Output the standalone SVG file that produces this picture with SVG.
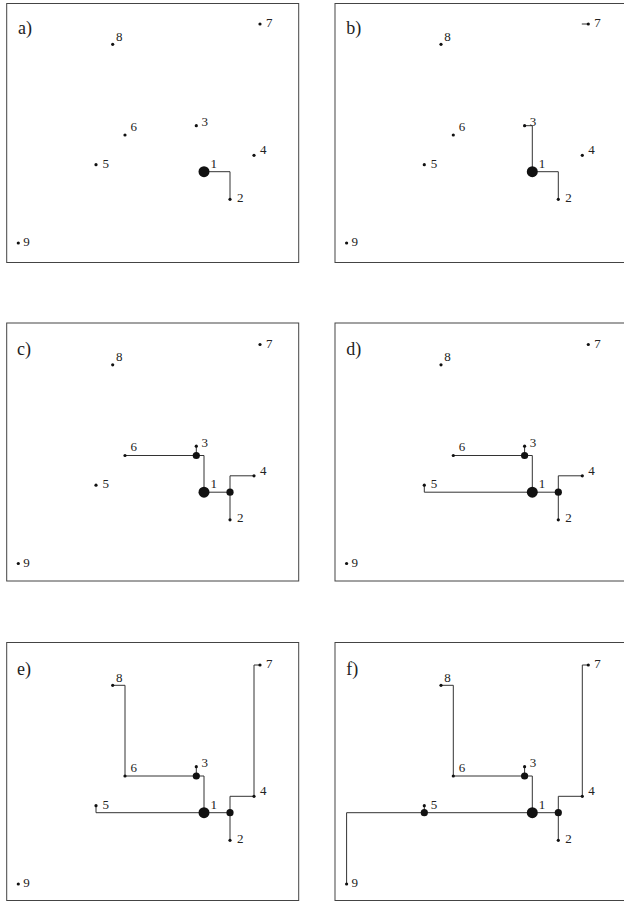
<svg xmlns="http://www.w3.org/2000/svg" width="624" height="902" viewBox="0 0 624 902">
<style>
.frame{fill:none;stroke:#444;stroke-width:1}
.edge{fill:none;stroke:#333;stroke-width:1}
.dot{fill:#111}
.lbl{font-family:"Liberation Serif","Times New Roman",serif;font-size:13px;fill:#222}
.ttl{font-family:"Liberation Serif","Times New Roman",serif;font-size:18px;fill:#222}
</style>
<rect width="624" height="902" fill="#fff"/>

<!-- Panel a -->
<g id="panel-a">
<rect class="frame" x="6.7" y="3.5" width="292" height="259"/>
<text class="ttl" x="18" y="34">a)</text>
<g id="a-edges"><path class="edge" d="M204,171.7 H230 V199.3"/></g>
<g id="a-n1"><circle class="dot" cx="204" cy="171.7" r="5.5"/><text class="lbl" x="210.5" y="167.7">1</text></g>
<g id="a-n2"><circle class="dot" cx="230" cy="199.3" r="1.6"/><text class="lbl" x="237" y="201.5">2</text></g>
<g id="a-n3"><circle class="dot" cx="196.3" cy="125.7" r="1.6"/><text class="lbl" x="201.5" y="126">3</text></g>
<g id="a-n4"><circle class="dot" cx="254" cy="155.3" r="1.6"/><text class="lbl" x="260" y="154">4</text></g>
<g id="a-n5"><circle class="dot" cx="96" cy="164.7" r="1.6"/><text class="lbl" x="102.5" y="167.7">5</text></g>
<g id="a-n6"><circle class="dot" cx="125" cy="135" r="1.6"/><text class="lbl" x="130.5" y="130.7">6</text></g>
<g id="a-n7"><circle class="dot" cx="260" cy="24" r="1.6"/><text class="lbl" x="266" y="27">7</text></g>
<g id="a-n8"><circle class="dot" cx="112.7" cy="44.3" r="1.6"/><text class="lbl" x="116" y="40.7">8</text></g>
<g id="a-n9"><circle class="dot" cx="18.3" cy="243" r="1.6"/><text class="lbl" x="23.3" y="246.3">9</text></g>
</g>

<!-- Panel b -->
<g id="panel-b" transform="translate(328.3,0)">
<rect class="frame" x="6.7" y="3.5" width="292" height="259"/>
<text class="ttl" x="18" y="34">b)</text>
<g id="b-edges">
<path class="edge" d="M204,171.7 H230 V199.3"/>
<path class="edge" d="M196.3,125.7 H204 V171.7"/>
<path class="edge" d="M253.5,24 H260"/>
</g>
<g id="b-n1"><circle class="dot" cx="204" cy="171.7" r="5.5"/><text class="lbl" x="210.5" y="167.7">1</text></g>
<g id="b-n2"><circle class="dot" cx="230" cy="199.3" r="1.6"/><text class="lbl" x="237" y="201.5">2</text></g>
<g id="b-n3"><circle class="dot" cx="196.3" cy="125.7" r="1.6"/><text class="lbl" x="201.5" y="126">3</text></g>
<g id="b-n4"><circle class="dot" cx="254" cy="155.3" r="1.6"/><text class="lbl" x="260" y="154">4</text></g>
<g id="b-n5"><circle class="dot" cx="96" cy="164.7" r="1.6"/><text class="lbl" x="102.5" y="167.7">5</text></g>
<g id="b-n6"><circle class="dot" cx="125" cy="135" r="1.6"/><text class="lbl" x="130.5" y="130.7">6</text></g>
<g id="b-n7"><circle class="dot" cx="260" cy="24" r="1.6"/><text class="lbl" x="266" y="27">7</text></g>
<g id="b-n8"><circle class="dot" cx="112.7" cy="44.3" r="1.6"/><text class="lbl" x="116" y="40.7">8</text></g>
<g id="b-n9"><circle class="dot" cx="18.3" cy="243" r="1.6"/><text class="lbl" x="23.3" y="246.3">9</text></g>
</g>

<!-- Panel c -->
<g id="panel-c" transform="translate(0,320.5)">
<rect class="frame" x="6.7" y="2.5" width="292" height="258"/>
<text class="ttl" x="17" y="34">c)</text>
<g id="c-edges">
<path class="edge" d="M204,171.7 H230"/>
<path class="edge" d="M230,199.3 V155.3 H254"/>
<path class="edge" d="M196.3,125.7 V135"/>
<path class="edge" d="M125,135 H204 V171.7"/>
</g>
<g id="c-s1"><circle class="dot" cx="230" cy="171.7" r="3.6"/></g>
<g id="c-s2"><circle class="dot" cx="196.3" cy="135" r="3.6"/></g>
<g id="c-n1"><circle class="dot" cx="204" cy="171.7" r="5.5"/><text class="lbl" x="210.5" y="167.7">1</text></g>
<g id="c-n2"><circle class="dot" cx="230" cy="199.3" r="1.6"/><text class="lbl" x="237" y="201.5">2</text></g>
<g id="c-n3"><circle class="dot" cx="196.3" cy="125.7" r="1.6"/><text class="lbl" x="201.5" y="126">3</text></g>
<g id="c-n4"><circle class="dot" cx="254" cy="155.3" r="1.6"/><text class="lbl" x="260" y="154">4</text></g>
<g id="c-n5"><circle class="dot" cx="96" cy="164.7" r="1.6"/><text class="lbl" x="102.5" y="167.7">5</text></g>
<g id="c-n6"><circle class="dot" cx="125" cy="135" r="1.6"/><text class="lbl" x="130.5" y="130.7">6</text></g>
<g id="c-n7"><circle class="dot" cx="260" cy="24" r="1.6"/><text class="lbl" x="266" y="27">7</text></g>
<g id="c-n8"><circle class="dot" cx="112.7" cy="44.3" r="1.6"/><text class="lbl" x="116" y="40.7">8</text></g>
<g id="c-n9"><circle class="dot" cx="18.3" cy="243" r="1.6"/><text class="lbl" x="23.3" y="246.3">9</text></g>
</g>

<!-- Panel d -->
<g id="panel-d" transform="translate(328.3,320.5)">
<rect class="frame" x="6.7" y="2.5" width="292" height="258"/>
<text class="ttl" x="18" y="34">d)</text>
<g id="d-edges">
<path class="edge" d="M204,171.7 H230"/>
<path class="edge" d="M230,199.3 V155.3 H254"/>
<path class="edge" d="M196.3,125.7 V135"/>
<path class="edge" d="M125,135 H204 V171.7"/>
<path class="edge" d="M204,171.7 H96 V164.7"/>
</g>
<g id="d-s1"><circle class="dot" cx="230" cy="171.7" r="3.6"/></g>
<g id="d-s2"><circle class="dot" cx="196.3" cy="135" r="3.6"/></g>
<g id="d-n1"><circle class="dot" cx="204" cy="171.7" r="5.5"/><text class="lbl" x="210.5" y="167.7">1</text></g>
<g id="d-n2"><circle class="dot" cx="230" cy="199.3" r="1.6"/><text class="lbl" x="237" y="201.5">2</text></g>
<g id="d-n3"><circle class="dot" cx="196.3" cy="125.7" r="1.6"/><text class="lbl" x="201.5" y="126">3</text></g>
<g id="d-n4"><circle class="dot" cx="254" cy="155.3" r="1.6"/><text class="lbl" x="260" y="154">4</text></g>
<g id="d-n5"><circle class="dot" cx="96" cy="164.7" r="1.6"/><text class="lbl" x="102.5" y="167.7">5</text></g>
<g id="d-n6"><circle class="dot" cx="125" cy="135" r="1.6"/><text class="lbl" x="130.5" y="130.7">6</text></g>
<g id="d-n7"><circle class="dot" cx="260" cy="24" r="1.6"/><text class="lbl" x="266" y="27">7</text></g>
<g id="d-n8"><circle class="dot" cx="112.7" cy="44.3" r="1.6"/><text class="lbl" x="116" y="40.7">8</text></g>
<g id="d-n9"><circle class="dot" cx="18.3" cy="243" r="1.6"/><text class="lbl" x="23.3" y="246.3">9</text></g>
</g>

<!-- Panel e -->
<g id="panel-e" transform="translate(0,641)">
<rect class="frame" x="6.7" y="1.5" width="292" height="258"/>
<text class="ttl" x="17" y="34">e)</text>
<g id="e-edges">
<path class="edge" d="M204,171.7 H230"/>
<path class="edge" d="M230,199.3 V155.3 H254"/>
<path class="edge" d="M196.3,125.7 V135"/>
<path class="edge" d="M125,135 H204 V171.7"/>
<path class="edge" d="M204,171.7 H96 V164.7"/>
<path class="edge" d="M112.7,44.3 H125 V135"/>
<path class="edge" d="M254,155.3 V24 H260"/>
</g>
<g id="e-s1"><circle class="dot" cx="230" cy="171.7" r="3.6"/></g>
<g id="e-s2"><circle class="dot" cx="196.3" cy="135" r="3.6"/></g>
<g id="e-n1"><circle class="dot" cx="204" cy="171.7" r="5.5"/><text class="lbl" x="210.5" y="167.7">1</text></g>
<g id="e-n2"><circle class="dot" cx="230" cy="199.3" r="1.6"/><text class="lbl" x="237" y="201.5">2</text></g>
<g id="e-n3"><circle class="dot" cx="196.3" cy="125.7" r="1.6"/><text class="lbl" x="201.5" y="126">3</text></g>
<g id="e-n4"><circle class="dot" cx="254" cy="155.3" r="1.6"/><text class="lbl" x="260" y="154">4</text></g>
<g id="e-n5"><circle class="dot" cx="96" cy="164.7" r="1.6"/><text class="lbl" x="102.5" y="167.7">5</text></g>
<g id="e-n6"><circle class="dot" cx="125" cy="135" r="1.6"/><text class="lbl" x="130.5" y="130.7">6</text></g>
<g id="e-n7"><circle class="dot" cx="260" cy="24" r="1.6"/><text class="lbl" x="266" y="27">7</text></g>
<g id="e-n8"><circle class="dot" cx="112.7" cy="44.3" r="1.6"/><text class="lbl" x="116" y="40.7">8</text></g>
<g id="e-n9"><circle class="dot" cx="18.3" cy="243" r="1.6"/><text class="lbl" x="23.3" y="246.3">9</text></g>
</g>

<!-- Panel f -->
<g id="panel-f" transform="translate(328.3,641)">
<rect class="frame" x="6.7" y="1.5" width="292" height="258"/>
<text class="ttl" x="18" y="34">f)</text>
<g id="f-edges">
<path class="edge" d="M204,171.7 H230"/>
<path class="edge" d="M230,199.3 V155.3 H254"/>
<path class="edge" d="M196.3,125.7 V135"/>
<path class="edge" d="M125,135 H204 V171.7"/>
<path class="edge" d="M204,171.7 H96"/>
<path class="edge" d="M96,171.7 V164.7"/>
<path class="edge" d="M112.7,44.3 H125 V135"/>
<path class="edge" d="M254,155.3 V24 H260"/>
<path class="edge" d="M96,171.7 H18.3 V243"/>
</g>
<g id="f-s1"><circle class="dot" cx="230" cy="171.7" r="3.6"/></g>
<g id="f-s2"><circle class="dot" cx="196.3" cy="135" r="3.6"/></g>
<g id="f-s3"><circle class="dot" cx="96" cy="171.7" r="3.6"/></g>
<g id="f-n1"><circle class="dot" cx="204" cy="171.7" r="5.5"/><text class="lbl" x="210.5" y="167.7">1</text></g>
<g id="f-n2"><circle class="dot" cx="230" cy="199.3" r="1.6"/><text class="lbl" x="237" y="201.5">2</text></g>
<g id="f-n3"><circle class="dot" cx="196.3" cy="125.7" r="1.6"/><text class="lbl" x="201.5" y="126">3</text></g>
<g id="f-n4"><circle class="dot" cx="254" cy="155.3" r="1.6"/><text class="lbl" x="260" y="154">4</text></g>
<g id="f-n5"><circle class="dot" cx="96" cy="164.7" r="1.6"/><text class="lbl" x="102.5" y="167.7">5</text></g>
<g id="f-n6"><circle class="dot" cx="125" cy="135" r="1.6"/><text class="lbl" x="130.5" y="130.7">6</text></g>
<g id="f-n7"><circle class="dot" cx="260" cy="24" r="1.6"/><text class="lbl" x="266" y="27">7</text></g>
<g id="f-n8"><circle class="dot" cx="112.7" cy="44.3" r="1.6"/><text class="lbl" x="116" y="40.7">8</text></g>
<g id="f-n9"><circle class="dot" cx="18.3" cy="243" r="1.6"/><text class="lbl" x="23.3" y="246.3">9</text></g>
</g>
</svg>
